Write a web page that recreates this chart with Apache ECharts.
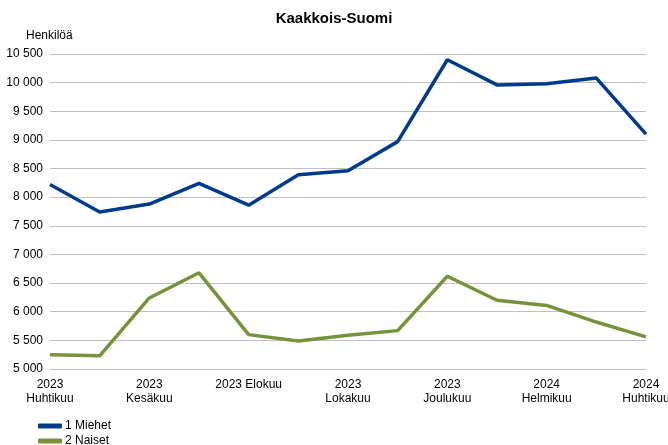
<!DOCTYPE html>
<html><head><meta charset="utf-8">
<script src="https://cdn.jsdelivr.net/npm/echarts@6/dist/echarts.min.js"></script>
<style>html,body{margin:0;padding:0;background:#fff}#c{width:668px;height:445px}</style>
</head><body><div id="c"></div>
<script>
const categories = ["2023\nHuhtikuu","2023\nToukokuu","2023\nKesäkuu","2023\nHeinäkuu","2023 Elokuu","2023\nSyyskuu","2023\nLokakuu","2023\nMarraskuu","2023\nJoulukuu","2024\nTammikuu","2024\nHelmikuu","2024\nMaaliskuu","2024\nHuhtikuu"];
const miehet = [8220, 7740, 7880, 8240, 7860, 8390, 8460, 8970, 10400, 9960, 9980, 10080, 9100];
const naiset = [5250, 5230, 6240, 6680, 5600, 5490, 5590, 5670, 6620, 6200, 6110, 5820, 5560];
const seriesNames = ["1 Miehet", "2 Naiset"];
const yMin = 5000, yMax = 10500, yStep = 500;

const font = "'Liberation Sans Narrow', 'Liberation Sans', Arial, sans-serif";
const titleFont = "'Liberation Sans', Arial, sans-serif";
const chart = echarts.init(document.getElementById('c'), null, {renderer: 'canvas'});
const legendBase = (name, top) => ({
  orient: 'vertical', left: 33, top: top,
  itemWidth: 24, itemHeight: 5, icon: 'roundRect',
  data: [name],
  textStyle: {fontFamily: font, fontSize: 12, color: '#000', padding: [0,0,0,-2]}
});
chart.setOption({
  animation: false,
  backgroundColor: '#fff',
  title: {text: 'Kaakkois-Suomi', left: 'center', top: 6,
    textStyle: {fontFamily: titleFont, fontSize: 15, fontWeight: 'bold', color: '#000'}},
  grid: {left: 50, right: 22, top: 54, bottom: 76, containLabel: false, outerBoundsMode: 'none'},
  legend: [legendBase(seriesNames[0], 415), legendBase(seriesNames[1], 430)],
  xAxis: {
    type: 'category', data: categories, boundaryGap: false,
    axisLine: {show: false}, axisTick: {show: false},
    axisLabel: {interval: 1, fontFamily: font, fontSize: 12, color: '#000', margin: 9, lineHeight: 14}
  },
  yAxis: {
    type: 'value', min: yMin, max: yMax, interval: yStep,
    name: 'Henkilöä', nameLocation: 'end', nameGap: 12,
    nameTextStyle: {fontFamily: font, fontSize: 12, color: '#000', align: 'left', padding: [0,0,0,-24]},
    axisLine: {show: false}, axisTick: {show: false},
    axisLabel: {fontFamily: font, fontSize: 12, color: '#000', margin: 7,
      formatter: v => String(v).replace(/\B(?=(\d{3})+(?!\d))/g, ' ')},
    splitLine: {lineStyle: {color: '#C0C0C0', width: 1}}
  },
  series: [
    {name: seriesNames[0], type: 'line', data: miehet, showSymbol: false, symbol: 'none',
      lineStyle: {color: '#003A8C', width: 3.5}, itemStyle: {color: '#003A8C'}},
    {name: seriesNames[1], type: 'line', data: naiset, showSymbol: false, symbol: 'none',
      lineStyle: {color: '#76933C', width: 3.5}, itemStyle: {color: '#76933C'}}
  ]
});
</script></body></html>
